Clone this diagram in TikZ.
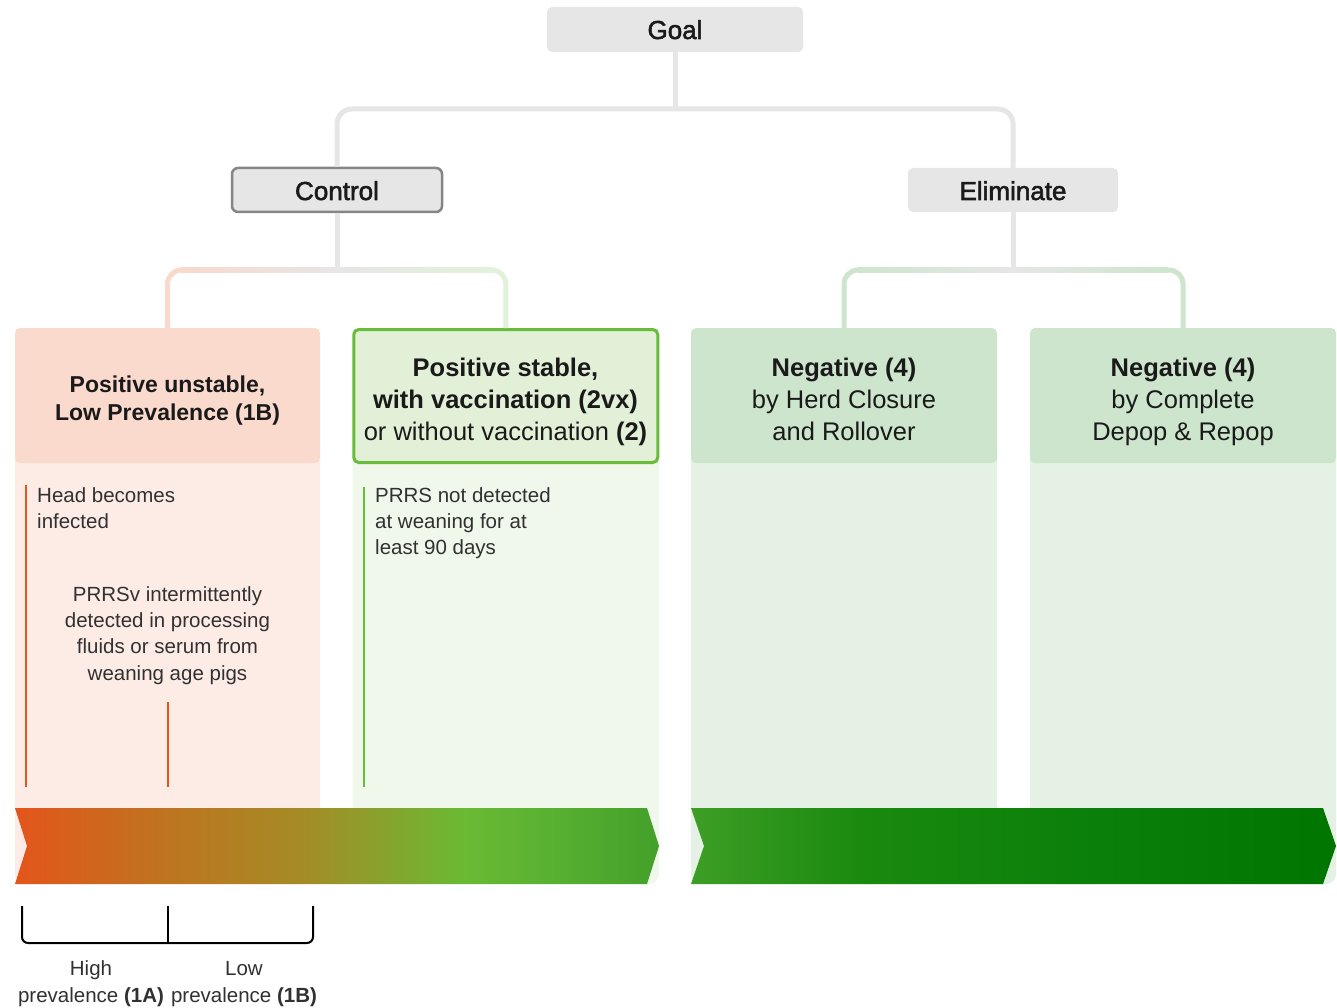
\documentclass[tikz,border=0pt]{standalone}
\usepackage{fontspec}
\setmainfont{Liberation Sans}
\newcommand\medweight[1]{\special{pdf:literal direct 2 Tr 0.55 w}#1\special{pdf:literal direct 0 Tr}}
\usetikzlibrary{calc}
\definecolor{txt}{HTML}{1A1A1A}
\definecolor{greybox}{HTML}{E6E6E6}
\definecolor{greyline}{HTML}{E6E6E6}
\definecolor{ctrlborder}{HTML}{858585}
\definecolor{pinkhead}{HTML}{F9DACD}
\definecolor{pinkbody}{HTML}{FDECE6}
\definecolor{pinkline}{HTML}{F9D9CC}
\definecolor{lgreenhead}{HTML}{E1F0D7}
\definecolor{lgreenbody}{HTML}{F0F7EB}
\definecolor{lgreenline}{HTML}{E2F1DA}
\definecolor{lgreenborder}{HTML}{67BD3A}
\definecolor{mgreenhead}{HTML}{CCE5CC}
\definecolor{mgreenbody}{HTML}{E5F1E5}
\definecolor{mgreenline}{HTML}{CDE5CD}
\definecolor{orangeline}{HTML}{E5551B}
\definecolor{oA}{HTML}{E4551B}
\definecolor{oB}{HTML}{BD7520}
\definecolor{oC}{HTML}{A68A26}
\definecolor{oD}{HTML}{6ABA34}
\definecolor{oE}{HTML}{58B031}
\definecolor{oF}{HTML}{43A02A}
\definecolor{gA}{HTML}{3E9E26}
\definecolor{gB}{HTML}{1A8A0E}
\definecolor{gC}{HTML}{0B800A}
\definecolor{gD}{HTML}{007500}
\pgfdeclarehorizontalshading{arrowA}{100bp}{color(0bp)=(oA); color(25bp)=(oA); color(37bp)=(oB); color(47bp)=(oC); color(60bp)=(oD); color(67bp)=(oE); color(75bp)=(oF); color(100bp)=(oF)}
\pgfdeclarehorizontalshading{arrowB}{100bp}{color(0bp)=(gA); color(25bp)=(gA); color(38bp)=(gB); color(55bp)=(gC); color(75bp)=(gD); color(100bp)=(gD)}
\tikzset{
  topbox/.style={rectangle, rounded corners=5pt, fill=greybox, inner sep=0pt},
  toptext/.style={text=txt, inner sep=0pt, anchor=base, font=\fontsize{26}{31}\selectfont},
  headbox/.style={rectangle, rounded corners=5pt, inner sep=0pt, minimum height=135, minimum width=306},
  headtext/.style={text=txt, align=center, inner sep=0pt, anchor=base, font=\fontsize{25.5}{32}\selectfont},
  bodytext/.style={text=txt!90!white, inner sep=0pt, anchor=base west, align=left, font=\fontsize{20.5}{26.4}\selectfont},
  conn/.style={line width=5pt},
  markline/.style={line width=2.5pt},
}
\begin{document}
\begin{tikzpicture}[x=1pt,y=-1pt]
\useasboundingbox (0,0) rectangle (1337,1008);
\fill[white] (0,0) rectangle (1337,1008);

% body panels
\fill[pinkbody, rounded corners=10pt] (15,440) rectangle (320,884);
\fill[lgreenbody, rounded corners=10pt] (352.5,440) rectangle (659,884);
\fill[mgreenbody, rounded corners=10pt] (691,440) rectangle (997,884);
\fill[mgreenbody, rounded corners=10pt] (1030,440) rectangle (1336,884);

% top level nodes
\node[topbox, minimum width=256, minimum height=45] (goal) at (675,29.5) {};
\node[topbox, draw=ctrlborder, line width=2.5pt, rounded corners=6pt, minimum width=210, minimum height=44] (ctrl) at (337,190) {};
\node[topbox, minimum width=210, minimum height=44] (elim) at (1013,190) {};
\node[toptext] (goalt) at (675,39) {\medweight{Goal}};
\node[toptext] (ctrlt) at (337,200) {\medweight{Control}};
\node[toptext] (elimt) at (1013,200) {\medweight{Eliminate}};

% header boxes
\node[headbox, fill=pinkhead, minimum width=305] (pu) at (167.5,395.5) {};
\node[headbox, fill=lgreenhead, draw=lgreenborder, line width=3pt, minimum width=304, minimum height=133] (ps) at (505.75,396) {};
\node[headbox, fill=mgreenhead] (nh) at (844,395.5) {};
\node[headbox, fill=mgreenhead] (nd) at (1183,395.5) {};

% (anchor=base of a multi-line node is the baseline of its last line)
\node[headtext, font=\bfseries\fontsize{23}{28.5}\selectfont] (put) at (167.5,420.5) {Positive unstable,\\Low Prevalence (1B)};
\node[headtext] (pst) at (505.5,440) {\textbf{Positive stable,}\\\textbf{with vaccination (2vx)}\\or without vaccination \textbf{(2)}};
\node[headtext] (nht) at (844,440) {\textbf{Negative (4)}\\by Herd Closure\\and Rollover};
\node[headtext] (ndt) at (1183,440) {\textbf{Negative (4)}\\by Complete\\Depop \& Repop};

% connectors: goal level
\draw[conn, greyline] (goal.south) -- (goal.south |- 0,109);
\draw[conn, greyline, rounded corners=15pt] (ctrl.north) -- (ctrl.north |- 0,109) -- (elim.north |- 0,109) -- (elim.north);

% connectors: control level
\draw[conn, greyline] (ctrl.south) -- (ctrl.south |- 0,270);
\shade[left color=pinkline, right color=greyline] (181,267.5) rectangle (337,272.5);
\shade[left color=greyline, right color=lgreenline] (337,267.5) rectangle (492,272.5);
\draw[conn, pinkline, rounded corners=14pt] ($(pu.north |- 0,270)+(16,0)$) -- (pu.north |- 0,270) -- (pu.north);
\draw[conn, lgreenline, rounded corners=14pt] ($(ps.north |- 0,270)+(-16,0)$) -- (ps.north |- 0,270) -- (ps.north);

% connectors: eliminate level
\draw[conn, greyline] (elim.south) -- (elim.south |- 0,270);
\shade[left color=mgreenline, right color=greyline] (858,267.5) rectangle (1013,272.5);
\shade[left color=greyline, right color=mgreenline] (1013,267.5) rectangle (1168,272.5);
\draw[conn, mgreenline, rounded corners=14pt] ($(nh.north |- 0,270)+(16,0)$) -- (nh.north |- 0,270) -- (nh.north);
\draw[conn, mgreenline, rounded corners=14pt] ($(nd.north |- 0,270)+(-16,0)$) -- (nd.north |- 0,270) -- (nd.north);

% body texts
\node[bodytext] (t1) at (37,528.4) {Head becomes\\infected};
\node[bodytext, anchor=base, align=center] (t2) at (167.5,680.2) {PRRSv intermittently\\detected in processing\\fluids or serum from\\weaning age pigs};
\node[bodytext] (t3) at (375,554.8) {PRRS not detected\\at weaning for at\\least 90 days};

% marker lines
\draw[markline, orangeline] (26,485) -- (26,787);
\draw[markline, orangeline] (168,702) -- (168,787);
\draw[markline, lgreenborder] (364,487) -- (364,787);

% arrows
\shade[shading=arrowA] (15,808) -- (647,808) -- (659,846) -- (647,884) -- (15,884) -- (27,846) -- cycle;
\shade[shading=arrowB] (691,808) -- (1323,808) -- (1336,846) -- (1323,884) -- (691,884) -- (704,846) -- cycle;

% bracket
\draw[line width=2pt, black, rounded corners=6pt] (22,906) -- (22,943) -- (313,943) -- (313,906);
\draw[line width=2pt, black] (168,906) -- (168,943);
\node[bodytext, anchor=base, align=center, font=\fontsize{20.5}{27}\selectfont] (hi) at (91,1002) {High\\prevalence \textbf{(1A)}};
\node[bodytext, anchor=base, align=center, font=\fontsize{20.5}{27}\selectfont] (lo) at (244,1002) {Low\\prevalence \textbf{(1B)}};
\end{tikzpicture}
\end{document}
